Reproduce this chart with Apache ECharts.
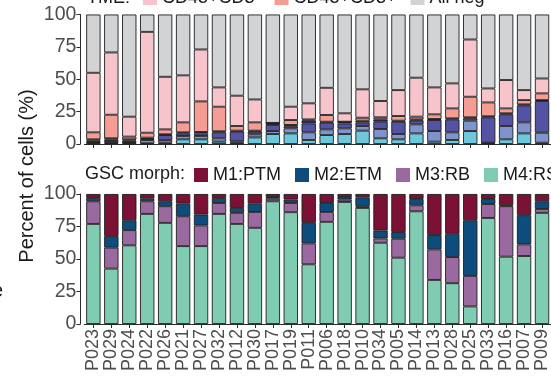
<!DOCTYPE html>
<html>
<head>
<meta charset="utf-8">
<script src="https://cdn.jsdelivr.net/npm/echarts@6/dist/echarts.min.js"></script>
<style>
  html, body { margin: 0; padding: 0; background: #ffffff; }
  #chart { width: 551px; height: 380px; }
</style>
</head>
<body>
<div id="chart"></div>
<script>
// Samples, left to right
const samples = ['P023','P029','P024','P022','P026','P021','P027','P032','P012','P030','P017','P019','P011',
                 'P006','P018','P010','P034','P005','P014','P013','P028','P025','P033','P016','P007','P009'];

// Tumour micro-environment composition (%), stacked bottom to top
const tmeGroupA = [0.5,0.8,0.5,0.5,1,3.6,3.6,1.8,1,5.1,7.7,8.2,3.1,6.9,7.7,10.3,4.4,3.6,8.2,1.8,3.1,10,0.5,3.6,8.2,1];
const tmeGroupB = [1,1.5,1,2.5,2,2.6,2.6,2.6,1,2.4,2.3,3.9,5.9,4.4,4.4,3.6,7.2,4.1,7,8.2,5.9,8,0.5,10.3,8.5,7.7];
const tmeGroupC = [1.2,1.2,1.2,0.9,3.9,2,2,4.6,7.5,2,4.7,1.6,6.9,5.2,3.8,2.6,5.6,9.5,2.8,8.5,10,1.8,19.6,9,13.1,24.5];
const tmeGroupD = [0.9,0.9,0.9,1,0.6,0.8,1.1,0.8,0.8,0.8,1.2,1,2.1,0.7,1.3,1.5,1.8,0.8,1,0.8,0.8,0.8,0.8,0.8,0.8,0.7];
const tmeCD3pos = [5.4,18.2,2.1,3.8,3.8,7.7,23.6,19,3.6,6.4,0.4,3.8,1,5.2,0,2.3,1.6,3.6,2.1,3.6,7.7,15.9,10.7,3.8,3.3,5.2];
const tmeCD3neg = [46,48.1,15.4,77.9,40.6,36.3,40.1,14.9,23.4,17.7,0,10.3,12.4,21,6.5,21.9,12.6,20,30.1,20.8,19.3,44.2,10.8,21.9,7.7,11.5];
const tmeAllNeg = [45,29.3,78.9,13.4,48.1,47,27,56.3,62.7,65.6,83.7,71.2,68.6,56.6,76.3,57.8,66.8,58.4,48.8,56.3,53.2,19.3,57.1,50.6,58.4,49.4];

// GSC morphology composition (%), stacked bottom to top
const gscM4 = [77,42.6,60.5,84.7,77.8,59.9,59.9,84.7,77,74,94.4,86,45.9,78.6,93.9,89.3,62.5,51,86.7,33.9,31.4,13.5,81.6,51.8,52.3,85.5];
const gscM3 = [17.4,16.1,11.7,9.7,12.8,23,15.9,8.4,8.5,12.2,2,7.1,16.1,7.6,1.8,1.3,3.3,14.6,4.6,23.5,20.1,23.5,10.7,38.8,8.9,3];
const gscM2 = [2.6,8.9,7.6,2,3.8,9.7,8.4,3.9,3.8,6.4,1.3,2.6,15.8,6.9,2,6.8,6.1,5.1,4.9,11,17.9,42.8,3.9,0.7,22.5,5.9];
const gscM1 = [3,32.4,20.2,3.6,5.6,7.4,15.8,3,10.7,7.4,2.3,4.3,22.2,6.9,2.3,2.6,28.1,29.3,3.8,31.6,30.6,20.2,3.8,8.7,16.3,5.6];

const yTicks = [0, 25, 50, 75, 100];

const FONT = 'Liberation Sans, Arial, Helvetica, sans-serif';
const AXIS_COLOR = '#2b2b2b';
const LABEL_COLOR = '#4d4d4d';

const chart = echarts.init(document.getElementById('chart'), null, { renderer: 'canvas' });

function barSeries(name, data, color, axisIndex, stack) {
  return {
    name: name,
    type: 'bar',
    stack: stack,
    xAxisIndex: axisIndex,
    yAxisIndex: axisIndex,
    data: data,
    barWidth: '80%',
    itemStyle: { color: color, borderColor: '#1e1e1e', borderWidth: 0.9 },
    emphasis: { disabled: true },
    animation: false
  };
}

function yAxisCfg(gridIndex) {
  return {
    type: 'value',
    gridIndex: gridIndex,
    min: yTicks[0],
    max: yTicks[yTicks.length - 1],
    interval: 25,
    offset: 4,
    axisLine: { show: true, lineStyle: { color: AXIS_COLOR, width: 1 } },
    axisTick: { show: true, length: 4, lineStyle: { color: AXIS_COLOR } },
    axisLabel: { color: LABEL_COLOR, fontSize: 19.5, fontFamily: FONT, margin: 4 },
    splitLine: { show: false }
  };
}

function xAxisCfg(gridIndex, showLabels) {
  return {
    type: 'category',
    gridIndex: gridIndex,
    data: samples,
    axisLine: { show: true, lineStyle: { color: AXIS_COLOR, width: 1 } },
    axisTick: { show: true, alignWithLabel: true, length: 4, lineStyle: { color: AXIS_COLOR } },
    axisLabel: {
      show: showLabels, rotate: 90, interval: 0, color: LABEL_COLOR,
      fontSize: 18, fontFamily: FONT, margin: 5
    }
  };
}

function legendCfg(names, left, top) {
  return {
    data: names,
    left: left, top: top, width: 700, padding: 0,
    itemWidth: 14, itemHeight: 14, itemGap: 14,
    icon: 'rect', selectedMode: false,
    itemStyle: { borderWidth: 0 },
    textStyle: { fontSize: 18, fontFamily: FONT, color: '#1a1a1a' }
  };
}

const option = {
  backgroundColor: '#ffffff',
  animation: false,
  grid: [
    { left: 84.4, top: 14.5, width: 473.2, height: 129.5 },
    { left: 84.4, top: 194, width: 473.2, height: 130 }
  ],
  xAxis: [xAxisCfg(0, false), xAxisCfg(1, true)],
  yAxis: [yAxisCfg(0), yAxisCfg(1)],
  legend: [
    legendCfg(['CD45+CD3-', 'CD45+CD3+', 'All neg'], 143, -11),
    legendCfg(['M1:PTM', 'M2:ETM', 'M3:RB', 'M4:RS'], 194, 166)
  ],
  graphic: [
    { type: 'text', left: 87, top: -11, silent: true,
      style: { text: 'TME:', font: '18px ' + FONT, fill: '#1a1a1a' } },
    { type: 'text', left: 85, top: 165, silent: true,
      style: { text: 'GSC morph:', font: '18px ' + FONT, fill: '#1a1a1a' } },
    { type: 'text', x: 27, y: 176, rotation: Math.PI / 2, silent: true,
      style: { text: 'Percent of cells (%)', font: '20px ' + FONT, fill: '#1a1a1a',
               textAlign: 'center', textVerticalAlign: 'middle' } },
    { type: 'text', left: -8, top: 281, silent: true,
      style: { text: 'e', font: '20px ' + FONT, fill: '#1a1a1a' } }
  ],
  series: [
    barSeries('Group A', tmeGroupA, '#6cc8da', 0, 'tme'),
    barSeries('Group B', tmeGroupB, '#7f93cc', 0, 'tme'),
    barSeries('Group C', tmeGroupC, '#5352a3', 0, 'tme'),
    barSeries('Group D', tmeGroupD, '#2f2e6a', 0, 'tme'),
    barSeries('CD45+CD3+', tmeCD3pos, '#f59d93', 0, 'tme'),
    barSeries('CD45+CD3-', tmeCD3neg, '#f7c4cc', 0, 'tme'),
    barSeries('All neg', tmeAllNeg, '#d2d3d5', 0, 'tme'),
    barSeries('M4:RS', gscM4, '#80ccb3', 1, 'gsc'),
    barSeries('M3:RB', gscM3, '#9a69a0', 1, 'gsc'),
    barSeries('M2:ETM', gscM2, '#0f4c7e', 1, 'gsc'),
    barSeries('M1:PTM', gscM1, '#7b1135', 1, 'gsc')
  ]
};

chart.setOption(option);
</script>
</body>
</html>
